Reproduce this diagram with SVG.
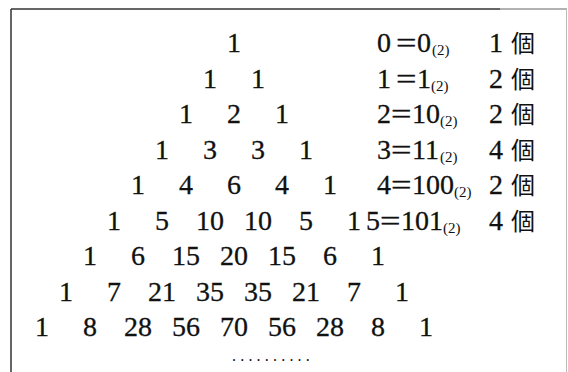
<svg xmlns="http://www.w3.org/2000/svg" width="568" height="372" viewBox="0 0 568 372">
<style>
.n{font-family:"Liberation Serif","DejaVu Serif",serif;font-size:28px;fill:#111;stroke:#111;stroke-width:0.3;text-anchor:middle}
.e{font-family:"Liberation Serif","DejaVu Serif",serif;font-size:28px;fill:#111;stroke:#111;stroke-width:0.3}
.s{font-family:"Liberation Serif","DejaVu Serif",serif;font-size:15px;fill:#111}
.k{font-family:"Noto Sans CJK JP","Noto Sans CJK SC",sans-serif;font-size:24px;fill:#111}
.d{font-family:"Liberation Serif",serif;font-size:16px;fill:#111;letter-spacing:4.2px}
</style>
<rect width="568" height="372" fill="#fff"/>
<g id="frame" fill="none">
<line x1="11" y1="9" x2="11" y2="372" stroke="#333" stroke-width="1.5"/>
<line x1="11" y1="9" x2="500" y2="9" stroke="#333" stroke-width="1.5"/>
<line x1="500" y1="9" x2="567" y2="9" stroke="#999" stroke-width="1.5"/>
<line x1="566.5" y1="9" x2="566.5" y2="372" stroke="#bbb" stroke-width="1"/>
</g>
<g id="triangle">
<text class="n" y="52"><tspan x="234">1</tspan></text>
<text class="n" y="87.5"><tspan x="210">1</tspan><tspan x="258">1</tspan></text>
<text class="n" y="123"><tspan x="186">1</tspan><tspan x="234">2</tspan><tspan x="282">1</tspan></text>
<text class="n" y="158.5"><tspan x="162">1</tspan><tspan x="210">3</tspan><tspan x="258">3</tspan><tspan x="306">1</tspan></text>
<text class="n" y="194"><tspan x="138">1</tspan><tspan x="186">4</tspan><tspan x="234">6</tspan><tspan x="282">4</tspan><tspan x="330">1</tspan></text>
<text class="n" y="229.5"><tspan x="114">1</tspan><tspan x="162">5</tspan><tspan x="210">10</tspan><tspan x="258">10</tspan><tspan x="306">5</tspan><tspan x="354">1</tspan></text>
<text class="n" y="265"><tspan x="90">1</tspan><tspan x="138">6</tspan><tspan x="186">15</tspan><tspan x="234">20</tspan><tspan x="282">15</tspan><tspan x="330">6</tspan><tspan x="378">1</tspan></text>
<text class="n" y="300.5"><tspan x="66">1</tspan><tspan x="114">7</tspan><tspan x="162">21</tspan><tspan x="210">35</tspan><tspan x="258">35</tspan><tspan x="306">21</tspan><tspan x="354">7</tspan><tspan x="402">1</tspan></text>
<text class="n" y="336"><tspan x="42">1</tspan><tspan x="90">8</tspan><tspan x="138">28</tspan><tspan x="186">56</tspan><tspan x="234">70</tspan><tspan x="282">56</tspan><tspan x="330">28</tspan><tspan x="378">8</tspan><tspan x="426">1</tspan></text>
<text class="d" x="232" y="361">..........</text>
</g>
<g id="binary">
<text class="e" x="377" y="52">0</text><text class="e" transform="translate(396,52) scale(1.3,1)">=</text><text class="e" x="417" y="52">0</text><text class="s" x="432" y="55">(2)</text>
<text class="e" x="377" y="87.5">1</text><text class="e" transform="translate(396,87.5) scale(1.3,1)">=</text><text class="e" x="417" y="87.5">1</text><text class="s" x="431" y="90.5">(2)</text>
<text class="e" x="377" y="123">2</text><text class="e" transform="translate(391,123) scale(1.3,1)">=</text><text class="e" x="412" y="123">10</text><text class="s" x="440" y="126">(2)</text>
<text class="e" x="377" y="158.5">3</text><text class="e" transform="translate(391,158.5) scale(1.3,1)">=</text><text class="e" x="412" y="158.5">11</text><text class="s" x="440" y="161.5">(2)</text>
<text class="e" x="377" y="194">4</text><text class="e" transform="translate(391,194) scale(1.3,1)">=</text><text class="e" x="412" y="194">100</text><text class="s" x="454" y="197">(2)</text>
<text class="e" x="366" y="229.5">5</text><text class="e" transform="translate(380,229.5) scale(1.3,1)">=</text><text class="e" x="401" y="229.5">101</text><text class="s" x="443" y="232.5">(2)</text>
</g>
<g id="counts">
<text class="e" x="489" y="52">1</text><text class="k" x="511" y="52">個</text>
<text class="e" x="489" y="87.5">2</text><text class="k" x="511" y="87.5">個</text>
<text class="e" x="489" y="123">2</text><text class="k" x="511" y="123">個</text>
<text class="e" x="489" y="158.5">4</text><text class="k" x="511" y="158.5">個</text>
<text class="e" x="489" y="194">2</text><text class="k" x="511" y="194">個</text>
<text class="e" x="489" y="229.5">4</text><text class="k" x="511" y="229.5">個</text>
</g>
</svg>
